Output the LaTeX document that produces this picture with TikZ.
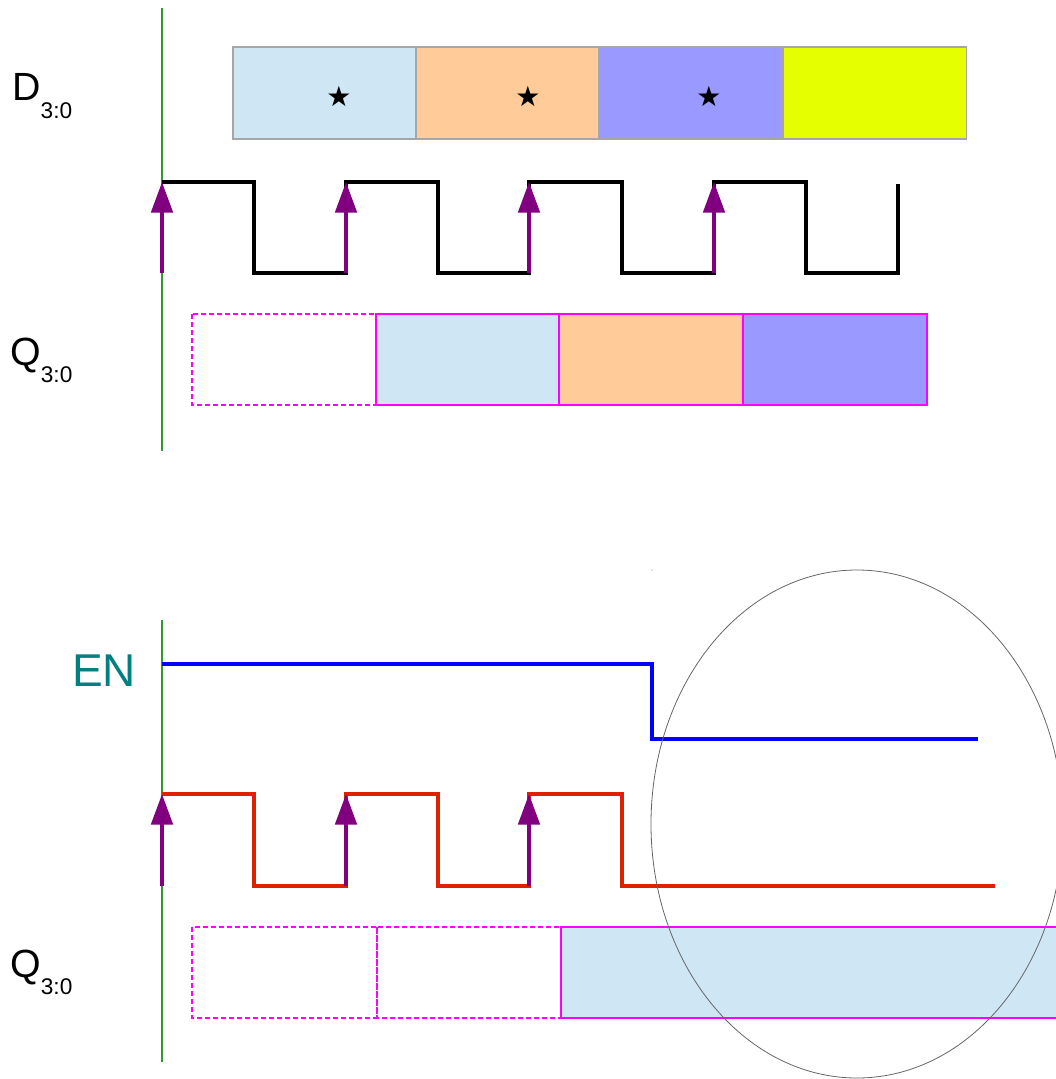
\documentclass[tikz,border=0pt]{standalone}
\usepackage{fontspec}
\setmainfont{Liberation Sans}
\newfontfamily\symfont{DejaVu Sans}
\usetikzlibrary{arrows.meta}

\definecolor{boxblue}{HTML}{CFE6F4}
\definecolor{boxpeach}{HTML}{FFCC99}
\definecolor{boxlilac}{HTML}{9999FF}
\definecolor{boxlime}{HTML}{E6FF00}
\definecolor{qmagenta}{HTML}{FF00FF}
\definecolor{enteal}{HTML}{008080}
\definecolor{clkred}{HTML}{DD2200}
\definecolor{edgepurple}{HTML}{800080}
\definecolor{markgreen}{HTML}{339933}

\begin{document}
\begin{tikzpicture}[x=0.75pt,y=-0.75pt,
    sig/.style={line width=3pt},
    edge/.style={draw=edgepurple, line width=3pt, -{Triangle[length=23pt,width=16pt]}},
    databox/.style={draw=gray!70, line width=0.8pt},
    qbox/.style={draw=qmagenta, line width=0.8pt},
    qempty/.style={draw=qmagenta, line width=0.8pt, dash pattern=on 4pt off 2pt},
    lbl/.style={anchor=base west, inner sep=0pt, font=\fontsize{29.5}{29.5}\selectfont},
    star/.style={inner sep=0pt, font=\symfont\fontsize{21}{21}\selectfont}]

    \clip (0,0) rectangle (1056,1079);

    % Draw the time markers
    \draw[markgreen, line width=0.9pt] (162,8) -- (162,451);
    \draw[markgreen, line width=0.9pt] (162,620) -- (162,1062);

    % Labels
    \node[lbl] (dlabel) at (12,100) {D\raisebox{-13.5pt}{\fontsize{17}{17}\selectfont 3:0}};
    \node[lbl] (qlabel) at (10,365) {Q\raisebox{-12.75pt}{\fontsize{17}{17}\selectfont 3:0}};
    \node[lbl, text=enteal, font=\fontsize{34.5}{34.5}\selectfont] (enlabel) at (72,686) {EN};
    \node[lbl] (qlabelb) at (10,977) {Q\raisebox{-12.75pt}{\fontsize{17}{17}\selectfont 3:0}};

    % Data input D
    \foreach \x/\c in {233/boxblue,416/boxpeach,599/boxlilac,783/boxlime}
        \filldraw[databox, fill=\c] (\x,47) rectangle ++(183.5,92);
    \foreach \x [count=\i] in {339,528,709}
        \node[star] (star\i) at (\x,96) {★};

    % Clock
    \draw[sig] (162,182) -| (254,273) -| (346,182) -| (438,273) -| (529,182)
        -| (622,273) -| (714,182) -| (806,273) -| (898,184);
    \foreach \x [count=\i] in {162,346,529,714} {
        \coordinate (lo\i) at (\x,273);
        \coordinate (up\i) at (\x,182);
        \draw[edge] (lo\i) -- (up\i);
    }

    % Output Q
    \draw[qempty, fill=white] (192,314) rectangle (376,405);
    \foreach \x/\c in {376/boxblue,559/boxpeach,743/boxlilac}
        \filldraw[qbox, fill=\c] (\x,314) rectangle ++(184,91);

    % Enable
    \draw[sig, blue] (162,664) -| (652,739) -- (978,739);

    % Gated clock
    \draw[sig, clkred] (162,794) -| (254,886) -| (346,794) -| (438,886) -| (529,794)
        -| (622,886) -- (995,886);
    \foreach \x [count=\i] in {162,346,529} {
        \coordinate (glo\i) at (\x,886);
        \coordinate (gup\i) at (\x,794);
        \draw[edge] (glo\i) -- (gup\i);
    }

    % Output Q, held
    \draw[qempty] (192,927) rectangle (377,1018);
    \draw[qempty] (377,927) rectangle (561,1018);
    \filldraw[qbox, fill=boxblue] (561,927) rectangle (1070,1018);

    % Highlight
    \draw[gray!80!black, line width=0.6pt] (857,824) ellipse [x radius=206, y radius=254];
    \fill[gray] (652,570) circle (0.6);

\end{tikzpicture}
\end{document}
